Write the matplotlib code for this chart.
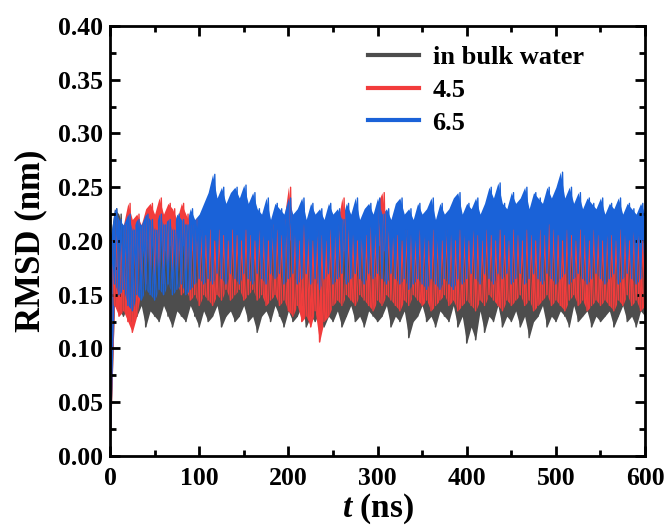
import numpy as np
import matplotlib
matplotlib.use("Agg")
import matplotlib.pyplot as plt
from matplotlib.lines import Line2D
from matplotlib.ticker import MultipleLocator

plt.rcParams['font.family'] = ['Liberation Serif', 'DejaVu Serif']
plt.rcParams['font.weight'] = 'bold'
plt.rcParams['mathtext.fontset'] = 'custom'
plt.rcParams['mathtext.it'] = 'Liberation Serif:italic:bold'
plt.rcParams['mathtext.rm'] = 'Liberation Serif:bold'

# sample times (ns) of the read-off envelope, every 5 ns
t_env = np.arange(0, 601, 5)

# in bulk water: lower / upper edge of the noisy trace
bulk_low = [0.0, 0.14, 0.135, 0.13, 0.14, 0.125, 0.13, 0.14, 0.12, 0.135, 0.13,
            0.125, 0.14, 0.13, 0.12, 0.135, 0.13, 0.125, 0.14, 0.13, 0.12,
            0.135, 0.125, 0.13, 0.14, 0.12, 0.13, 0.135, 0.125, 0.13, 0.14,
            0.125, 0.13, 0.115, 0.13, 0.135, 0.125, 0.14, 0.13, 0.12, 0.135,
            0.125, 0.13, 0.14, 0.12, 0.13, 0.125, 0.135, 0.12, 0.13, 0.125,
            0.135, 0.12, 0.13, 0.14, 0.125, 0.13, 0.12, 0.135, 0.13, 0.125,
            0.13, 0.14, 0.12, 0.13, 0.125, 0.135, 0.11, 0.125, 0.13, 0.14,
            0.125, 0.13, 0.12, 0.135, 0.13, 0.125, 0.14, 0.12, 0.13, 0.105,
            0.12, 0.108, 0.135, 0.115, 0.13, 0.125, 0.14, 0.12, 0.13, 0.125,
            0.135, 0.12, 0.13, 0.11, 0.125, 0.13, 0.14, 0.12, 0.13, 0.125,
            0.135, 0.13, 0.12, 0.14, 0.125, 0.13, 0.135, 0.12, 0.13, 0.125,
            0.13, 0.135, 0.12, 0.13, 0.14, 0.125, 0.13, 0.12, 0.135, 0.13]
bulk_high = [0.20, 0.23, 0.225, 0.21, 0.2, 0.195, 0.2, 0.19, 0.2, 0.195, 0.19,
             0.2, 0.19, 0.195, 0.2, 0.19, 0.195, 0.2, 0.19, 0.195, 0.2,
             0.19, 0.195, 0.2, 0.19, 0.2, 0.195, 0.19, 0.2, 0.195, 0.19,
             0.2, 0.195, 0.19, 0.2, 0.19, 0.195, 0.2, 0.19, 0.195, 0.2,
             0.19, 0.2, 0.195, 0.19, 0.2, 0.195, 0.19, 0.2, 0.19, 0.195,
             0.2, 0.19, 0.195, 0.2, 0.19, 0.2, 0.195, 0.19, 0.2, 0.195,
             0.19, 0.2, 0.195, 0.19, 0.2, 0.19, 0.195, 0.2, 0.19, 0.195,
             0.2, 0.19, 0.2, 0.195, 0.19, 0.2, 0.195, 0.19, 0.2, 0.19,
             0.195, 0.2, 0.19, 0.195, 0.2, 0.19, 0.2, 0.195, 0.19, 0.2,
             0.195, 0.19, 0.2, 0.19, 0.195, 0.2, 0.19, 0.2, 0.195, 0.19,
             0.2, 0.195, 0.19, 0.2, 0.19, 0.195, 0.2, 0.19, 0.2, 0.195,
             0.19, 0.2, 0.195, 0.19, 0.2, 0.19, 0.195, 0.2, 0.19, 0.195]

# 4.5
ph45_low = [0.0, 0.14, 0.13, 0.135, 0.125, 0.115, 0.13, 0.155, 0.16, 0.165, 0.16,
            0.165, 0.16, 0.17, 0.165, 0.16, 0.15, 0.155, 0.145, 0.15, 0.14,
            0.15, 0.145, 0.14, 0.15, 0.145, 0.155, 0.145, 0.15, 0.155, 0.145,
            0.15, 0.155, 0.145, 0.15, 0.14, 0.145, 0.15, 0.14, 0.145, 0.135,
            0.13, 0.14, 0.125, 0.13, 0.12, 0.135, 0.106, 0.125, 0.13, 0.14,
            0.145, 0.14, 0.15, 0.145, 0.14, 0.15, 0.145, 0.14, 0.135, 0.145,
            0.14, 0.15, 0.145, 0.14, 0.135, 0.145, 0.14, 0.15, 0.145, 0.14,
            0.145, 0.135, 0.14, 0.145, 0.15, 0.14, 0.145, 0.135, 0.14, 0.145,
            0.14, 0.135, 0.145, 0.14, 0.15, 0.145, 0.14, 0.135, 0.145, 0.14,
            0.145, 0.15, 0.14, 0.145, 0.135, 0.14, 0.145, 0.15, 0.14, 0.145,
            0.14, 0.135, 0.145, 0.15, 0.14, 0.145, 0.135, 0.14, 0.145, 0.14,
            0.145, 0.14, 0.135, 0.145, 0.14, 0.15, 0.14, 0.145, 0.135, 0.14]
ph45_high = [0.20, 0.22, 0.21, 0.215, 0.235, 0.22, 0.225, 0.215, 0.23, 0.235, 0.225,
             0.24, 0.225, 0.235, 0.23, 0.22, 0.235, 0.225, 0.215, 0.22, 0.21,
             0.205, 0.21, 0.2, 0.21, 0.205, 0.2, 0.21, 0.205, 0.2, 0.21,
             0.205, 0.2, 0.21, 0.205, 0.2, 0.215, 0.21, 0.205, 0.22, 0.25,
             0.21, 0.2, 0.215, 0.205, 0.2, 0.21, 0.205, 0.2, 0.21, 0.205,
             0.215, 0.24, 0.21, 0.205, 0.2, 0.21, 0.205, 0.215, 0.21, 0.235,
             0.245, 0.215, 0.21, 0.205, 0.2, 0.21, 0.205, 0.2, 0.21, 0.205,
             0.2, 0.21, 0.205, 0.2, 0.21, 0.205, 0.2, 0.21, 0.205, 0.2,
             0.21, 0.205, 0.2, 0.21, 0.205, 0.2, 0.21, 0.205, 0.2, 0.21,
             0.205, 0.2, 0.21, 0.205, 0.2, 0.21, 0.205, 0.215, 0.21, 0.205,
             0.2, 0.21, 0.205, 0.2, 0.21, 0.205, 0.2, 0.21, 0.205, 0.2,
             0.21, 0.205, 0.2, 0.21, 0.205, 0.2, 0.21, 0.205, 0.2, 0.21]

# 6.5
ph65_low = [0.0, 0.16, 0.15, 0.155, 0.14, 0.135, 0.15, 0.145, 0.155, 0.15, 0.145,
            0.155, 0.15, 0.16, 0.15, 0.155, 0.16, 0.15, 0.155, 0.16, 0.165,
            0.16, 0.165, 0.16, 0.17, 0.165, 0.16, 0.17, 0.165, 0.16, 0.17,
            0.165, 0.16, 0.17, 0.165, 0.16, 0.17, 0.165, 0.17, 0.16, 0.165,
            0.17, 0.16, 0.165, 0.17, 0.16, 0.165, 0.155, 0.165, 0.17, 0.16,
            0.165, 0.17, 0.16, 0.165, 0.17, 0.165, 0.16, 0.17, 0.165, 0.17,
            0.165, 0.16, 0.17, 0.165, 0.16, 0.165, 0.155, 0.16, 0.165, 0.16,
            0.155, 0.165, 0.16, 0.155, 0.165, 0.16, 0.155, 0.165, 0.16, 0.165,
            0.17, 0.165, 0.16, 0.17, 0.165, 0.16, 0.17, 0.165, 0.17, 0.16,
            0.165, 0.17, 0.16, 0.165, 0.17, 0.165, 0.16, 0.17, 0.165, 0.16,
            0.165, 0.17, 0.16, 0.165, 0.17, 0.165, 0.16, 0.165, 0.17, 0.165,
            0.16, 0.165, 0.17, 0.16, 0.165, 0.17, 0.165, 0.16, 0.165, 0.17]
ph65_high = [0.20, 0.23, 0.22, 0.215, 0.225, 0.21, 0.22, 0.215, 0.225, 0.22, 0.21,
             0.225, 0.215, 0.22, 0.21, 0.225, 0.22, 0.215, 0.23, 0.22, 0.225,
             0.235, 0.245, 0.262, 0.24, 0.25, 0.235, 0.245, 0.25, 0.24, 0.252,
             0.235, 0.245, 0.23, 0.225, 0.24, 0.22, 0.235, 0.23, 0.225, 0.24,
             0.225, 0.23, 0.24, 0.22, 0.235, 0.225, 0.23, 0.22, 0.235, 0.225,
             0.23, 0.22, 0.235, 0.225, 0.24, 0.22, 0.23, 0.235, 0.225, 0.24,
             0.225, 0.23, 0.22, 0.235, 0.24, 0.225, 0.23, 0.22, 0.235, 0.225,
             0.23, 0.24, 0.22, 0.235, 0.225, 0.23, 0.24, 0.245, 0.225, 0.235,
             0.23, 0.24, 0.225, 0.235, 0.25, 0.24, 0.254, 0.235, 0.23, 0.245,
             0.235, 0.24, 0.25, 0.23, 0.245, 0.24, 0.235, 0.25, 0.24, 0.25,
             0.264, 0.24, 0.25, 0.235, 0.245, 0.23, 0.24, 0.235, 0.23, 0.24,
             0.225, 0.235, 0.23, 0.24, 0.225, 0.235, 0.23, 0.225, 0.235, 0.225]

labels = ['in bulk water', '4.5', '6.5']
colors = ['#4d4d4d', '#f23c3c', '#1a62d8']
series = [(bulk_low, bulk_high), (ph45_low, ph45_high), (ph65_low, ph65_high)]

fig = plt.figure(figsize=(6.68, 5.28), dpi=100)
ax = fig.add_axes([0.1647, 0.1364, 0.8009, 0.8144])

for (low, high), col in zip(series, colors):
    # band between the read-off lower and upper edges of the dense trace
    ax.fill_between(t_env, low, high, color=col, lw=0)
    # zigzag through the edges gives the spiky outline
    t = np.empty(2 * len(t_env))
    v = np.empty(2 * len(t_env))
    t[0::2] = t_env
    t[1::2] = t_env + 2.5
    v[0::2] = low
    v[1::2] = high
    ax.plot(t, v, color=col, lw=1.0)

ax.set_xlim(0, 600)
ax.set_ylim(0, 0.40)
ax.xaxis.set_major_locator(MultipleLocator(100))
ax.xaxis.set_minor_locator(MultipleLocator(50))
ax.yaxis.set_major_locator(MultipleLocator(0.05))
ax.yaxis.set_minor_locator(MultipleLocator(0.025))
ax.yaxis.set_major_formatter(plt.FormatStrFormatter('%.2f'))

ax.tick_params(which='both', direction='in', top=True, right=True, width=2)
ax.tick_params(which='major', length=7, labelsize=18.5)
ax.tick_params(axis='x', which='major', pad=8)
ax.tick_params(axis='y', which='major', pad=5)
ax.tick_params(which='minor', length=4)
for s in ax.spines.values():
    s.set_linewidth(2)

ax.set_xlabel(r'$t$ (ns)', fontsize=24, fontweight='bold', labelpad=1)
ax.set_ylabel('RMSD (nm)', fontsize=25, fontweight='bold', labelpad=8)

handles = [Line2D([], [], color=c, lw=3) for c in colors]
ax.legend(handles, labels, loc='upper left', bbox_to_anchor=(0.482, 0.954),
          frameon=False, fontsize=19, handlelength=1.95, handletextpad=0.5,
          labelspacing=0.35, borderpad=0, borderaxespad=0)

fig.savefig('out.png', dpi=100)
